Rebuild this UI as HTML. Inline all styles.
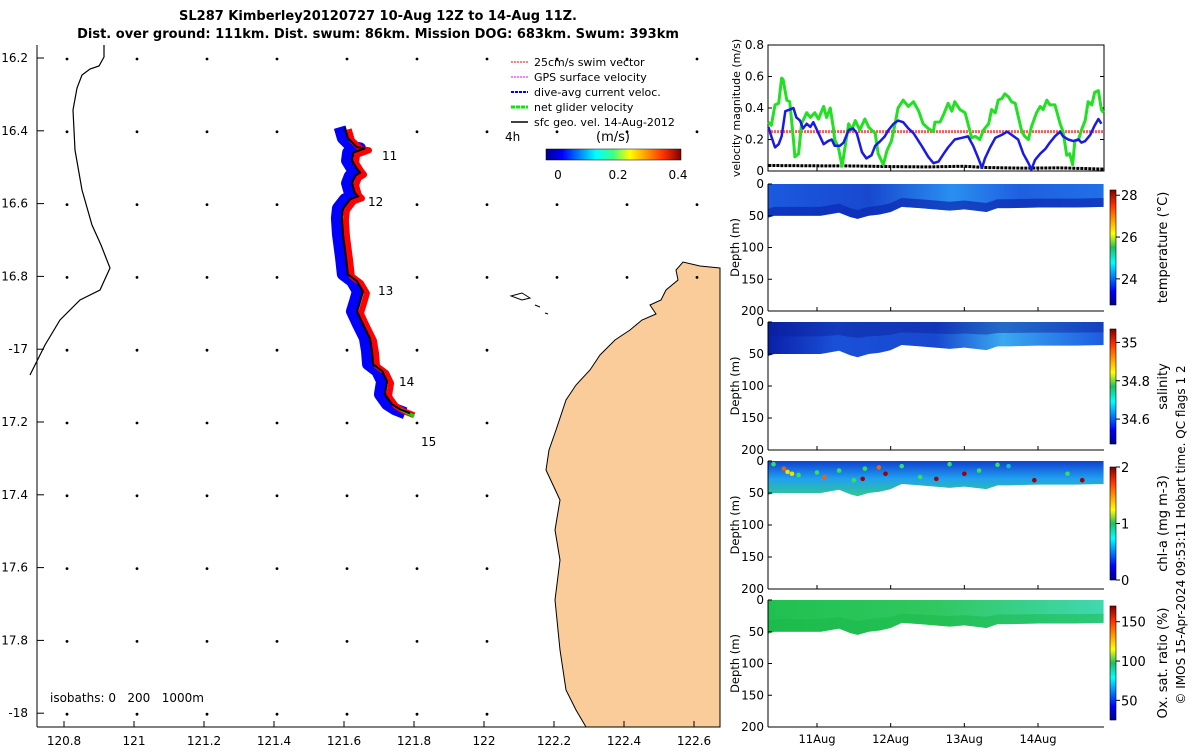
<!DOCTYPE html>
<html><head><meta charset="utf-8">
<style>
body{margin:0;background:#fff;font-family:"Liberation Sans",sans-serif}
svg text{font-family:"DejaVu Sans","Liberation Sans",sans-serif}
</style></head>
<body>
<svg id="chart" xmlns="http://www.w3.org/2000/svg" width="1200" height="750" viewBox="0 0 1200 750">
<defs>
<linearGradient id="jetV" x1="0" y1="1" x2="0" y2="0">
<stop offset="0" stop-color="#00008f"/><stop offset="0.12" stop-color="#0000ff"/><stop offset="0.37" stop-color="#00ffff"/><stop offset="0.5" stop-color="#1fc060"/><stop offset="0.62" stop-color="#ffff00"/><stop offset="0.87" stop-color="#ff3000"/><stop offset="1" stop-color="#800000"/>
</linearGradient>
<linearGradient id="jetH" x1="0" y1="0" x2="1" y2="0">
<stop offset="0" stop-color="#00008f"/><stop offset="0.12" stop-color="#0000ff"/><stop offset="0.37" stop-color="#00ffff"/><stop offset="0.5" stop-color="#40ff80"/><stop offset="0.62" stop-color="#ffff00"/><stop offset="0.87" stop-color="#ff3000"/><stop offset="1" stop-color="#800000"/>
</linearGradient>
<linearGradient id="gT" x1="0" y1="0" x2="1" y2="0">
<stop offset="0" stop-color="#1a5ae0"/><stop offset="0.3" stop-color="#1848d0"/><stop offset="0.55" stop-color="#2a8ff0"/><stop offset="0.75" stop-color="#1f5fe0"/><stop offset="1" stop-color="#2070e8"/>
</linearGradient>
<linearGradient id="gS" x1="0" y1="0" x2="1" y2="0">
<stop offset="0" stop-color="#0a20a8"/><stop offset="0.2" stop-color="#1a50d8"/><stop offset="0.5" stop-color="#1848d0"/><stop offset="0.7" stop-color="#3aa8f0"/><stop offset="1" stop-color="#1c5ce0"/>
</linearGradient>
<linearGradient id="gC" x1="0" y1="0" x2="0" y2="1">
<stop offset="0" stop-color="#1040d0"/><stop offset="0.5" stop-color="#20a0f0"/><stop offset="1" stop-color="#30c890"/>
</linearGradient>
<linearGradient id="gO" x1="0" y1="0" x2="1" y2="0">
<stop offset="0" stop-color="#20c050"/><stop offset="0.5" stop-color="#30c860"/><stop offset="1" stop-color="#40d8b0"/>
</linearGradient>
</defs>

<text x="378" y="20" text-anchor="middle" font-size="13" font-weight="bold">SL287 Kimberley20120727 10-Aug 12Z to 14-Aug 11Z.</text>
<text x="378" y="38" text-anchor="middle" font-size="13" font-weight="bold">Dist. over ground: 111km. Dist. swum: 86km. Mission DOG: 683km. Swum: 393km</text>

<g id="map">
<polygon fill="#f9cc99" stroke="#000" stroke-width="1" points="720,268 700,266 683,262 676,270 678,280 666,290 661,300 650,305 656,314 642,320 630,330 615,340 600,355 590,370 576,385 566,400 556,430 549,450 546,470 560,500 555,530 560,560 555,600 560,650 566,690 576,710 586,727 720,727"/>
<polyline fill="none" stroke="#000" stroke-width="1.2" points="104,45 104,57 99,66 90,69 82,75 77,88 73,110 75,150 82,190 92,225 101,245 110,268 100,290 80,300 60,320 45,345 30,375"/>
<path d="M511,296 L522,293 L530,298 L522,300Z M535,305 l5,2 M545,313 l3,1" stroke="#000" fill="none"/>
<g id="grid-arrows"></g>
<g id="track"></g>
<g id="map-axes"></g>
<text x="50" y="702" font-size="12" xml:space="preserve">isobaths: 0   200   1000m</text>
<text x="382" y="160" font-size="12">11</text>
<text x="368" y="206" font-size="12">12</text>
<text x="378" y="295" font-size="12">13</text>
<text x="399" y="386" font-size="12">14</text>
<text x="421" y="446" font-size="12">15</text>
<g font-size="11">
<line x1="511" y1="62" x2="528" y2="62" stroke="#f00" stroke-dasharray="2,1"/><text x="534" y="66">25cm/s swim vector</text>
<line x1="511" y1="77" x2="528" y2="77" stroke="#f0f" stroke-dasharray="2,1"/><text x="534" y="81">GPS surface velocity</text>
<line x1="511" y1="92" x2="528" y2="92" stroke="#00f" stroke-width="2" stroke-dasharray="3,1"/><text x="534" y="96">dive-avg current veloc.</text>
<line x1="511" y1="107" x2="528" y2="107" stroke="#0e0" stroke-width="3" stroke-dasharray="4,1"/><text x="534" y="111">net glider velocity</text>
<line x1="511" y1="122" x2="528" y2="122" stroke="#000" stroke-width="1.5"/><text x="534" y="126">sfc geo. vel. 14-Aug-2012</text>
<text x="505" y="141" font-size="12">4h</text>
<text x="596" y="141" font-size="13">(m/s)</text>
<rect x="546" y="149" width="135" height="11" fill="url(#jetH)" stroke="#000" stroke-width="0.5"/>
<text x="558" y="179" font-size="12" text-anchor="middle">0</text>
<text x="618" y="179" font-size="12" text-anchor="middle">0.2</text>
<text x="678" y="179" font-size="12" text-anchor="middle">0.4</text>
</g>
</g>

<g id="velplot"></g>
<g id="heat"></g>

<text transform="translate(1185,535) rotate(-90)" text-anchor="middle" font-size="12">© IMOS 15-Apr-2024 09:53:11 Hobart time. QC flags 1  2</text>
</svg>

<script>
const NS="http://www.w3.org/2000/svg";
function mk(tag,attrs,parent,txt){const e=document.createElementNS(NS,tag);for(const k in attrs)e.setAttribute(k,attrs[k]);if(txt!==undefined)e.textContent=txt;parent.appendChild(e);return e;}

// ---------- data ----------
const lonTicks=[120.8,121,121.2,121.4,121.6,121.8,122,122.2,122.4,122.6];
const lonLabels=["120.8","121","121.2","121.4","121.6","121.8","122","122.2","122.4","122.6"];
const latTicks=[16.2,16.4,16.6,16.8,17,17.2,17.4,17.6,17.8,18];
const latLabels=["16.2","16.4","16.6","16.8","-17","17.2","17.4","17.6","17.8","-18"];
const trackLon=[121.602,121.611,121.637,121.660,121.626,121.623,121.637,121.646,121.631,121.623,121.631,121.640,121.617,121.597,121.594,121.597,121.606,121.611,121.637,121.654,121.646,121.637,121.654,121.674,121.680,121.683,121.709,121.723,121.717,121.737,121.760,121.789];
const trackLat=[16.39,16.42,16.445,16.448,16.46,16.482,16.504,16.515,16.524,16.544,16.571,16.58,16.588,16.613,16.64,16.684,16.75,16.794,16.813,16.841,16.868,16.896,16.931,16.97,17.005,17.041,17.06,17.088,17.124,17.151,17.165,17.176];

const velT=[10.34,10.38,10.43,10.48,10.52,10.54,10.59,10.63,10.68,10.70,10.75,10.79,10.86,10.91,10.97,11.02,11.09,11.13,11.18,11.22,11.24,11.29,11.34,11.38,11.43,11.47,11.52,11.58,11.65,11.70,11.74,11.79,11.83,11.90,11.95,12.01,12.06,12.10,12.17,12.24,12.31,12.38,12.44,12.51,12.58,12.60,12.67,12.72,12.78,12.83,12.87,12.94,13.01,13.05,13.10,13.15,13.21,13.26,13.33,13.37,13.42,13.46,13.51,13.55,13.60,13.64,13.69,13.73,13.78,13.82,13.87,13.91,13.98,14.03,14.07,14.12,14.16,14.23,14.30,14.34,14.39,14.43,14.47,14.50,14.55,14.59,14.64,14.68,14.73,14.77,14.82,14.86,14.89];
const netVel=[0.31,0.29,0.42,0.43,0.59,0.58,0.45,0.44,0.20,0.09,0.11,0.30,0.37,0.34,0.37,0.33,0.41,0.34,0.40,0.28,0.20,0.15,0.03,0.15,0.30,0.26,0.32,0.26,0.33,0.28,0.26,0.24,0.11,0.04,0.13,0.19,0.30,0.40,0.45,0.41,0.44,0.38,0.30,0.27,0.25,0.31,0.31,0.36,0.43,0.38,0.44,0.39,0.37,0.30,0.21,0.22,0.20,0.26,0.30,0.39,0.37,0.45,0.46,0.49,0.47,0.44,0.43,0.35,0.25,0.22,0.20,0.28,0.37,0.41,0.39,0.45,0.42,0.42,0.30,0.25,0.10,0.11,0.04,0.19,0.20,0.26,0.32,0.44,0.42,0.50,0.51,0.39,0.37];
const curT=[10.34,10.38,10.43,10.48,10.52,10.57,10.63,10.68,10.72,10.77,10.81,10.86,10.91,10.95,11.02,11.09,11.15,11.20,11.24,11.31,11.36,11.43,11.49,11.54,11.61,11.67,11.74,11.79,11.86,11.92,11.97,12.04,12.10,12.17,12.24,12.31,12.42,12.51,12.58,12.65,12.72,12.78,12.87,12.96,13.05,13.12,13.19,13.24,13.28,13.35,13.42,13.51,13.58,13.64,13.73,13.80,13.87,13.91,13.96,14.03,14.10,14.16,14.23,14.30,14.34,14.41,14.48,14.55,14.59,14.64,14.71,14.77,14.82,14.86];
const curVel=[0.28,0.22,0.15,0.17,0.22,0.38,0.39,0.40,0.34,0.32,0.27,0.30,0.28,0.31,0.24,0.17,0.19,0.20,0.16,0.16,0.18,0.26,0.27,0.24,0.12,0.08,0.10,0.16,0.19,0.22,0.26,0.30,0.32,0.31,0.27,0.24,0.16,0.09,0.05,0.06,0.11,0.15,0.20,0.21,0.22,0.16,0.08,0.02,0.08,0.15,0.21,0.23,0.25,0.23,0.20,0.11,0.05,0.01,0.07,0.11,0.14,0.18,0.22,0.25,0.22,0.20,0.19,0.20,0.18,0.19,0.23,0.29,0.33,0.30];
const geoT=[10.34,11,11.5,12,12.5,13,13.3,13.8,14.3,14.89];
const geoVel=[0.035,0.033,0.032,0.028,0.026,0.03,0.022,0.018,0.02,0.012];
const swimSpeed=[0.25];
const velTicks=[0,0.2,0.4,0.6,0.8];
const velTickLabels=["0","0.2","0.4","0.6","0.8"];

const dayTicks=[11,12,13,14];
const dayLabels=["11Aug","12Aug","13Aug","14Aug"];
const mldT=[10.34,10.42,10.6,10.8,11.05,11.3,11.45,11.55,11.7,11.85,12.0,12.15,12.4,12.6,12.8,13.0,13.15,13.3,13.45,13.6,14.0,14.5,14.89];
const mldD=[53,50,50,50,50,45,52,55,50,48,44,36,38,40,42,40,42,44,38,38,37,37,36];
const depthTicks=[0,50,100,150,200];

const tempCb=[24,26,28]; const tempRange=[22.75,28.25];
const salCb=[34.6,34.8,35]; const salRange=[34.47,35.07];
const chlCb=[0,1,2]; const chlRange=[0,2];
const oxCb=[50,100,150]; const oxRange=[25,170];
const chlDotT=[10.41,10.55,10.6,10.66,10.75,11.0,11.1,11.3,11.5,11.62,11.65,11.84,11.93,12.15,12.4,12.62,12.8,13.0,13.2,13.45,13.6,13.95,14.4,14.6];
const chlDotD=[5,12,17,20,22,18,25,15,30,28,12,10,20,8,25,28,5,20,15,6,8,30,20,30];
const chlDotV=[0.9,1.6,1.3,1.2,0.9,1.0,1.7,0.9,1.1,1.8,0.9,1.6,2.0,1.0,1.1,1.9,0.8,2.0,1.0,0.9,0.6,1.9,1.0,2.0];

// ---------- map ----------
const mx=lon=>64+(lon-120.8)*350;
const my=lat=>58+(lat-16.2)*364;
const map=document.getElementById('map-axes');
mk('line',{x1:37,y1:727,x2:720,y2:727,stroke:'#000'},map);
mk('line',{x1:37,y1:45,x2:37,y2:727,stroke:'#000'},map);
lonTicks.forEach((v,i)=>{const x=mx(v);
 mk('line',{x1:x,y1:727,x2:x,y2:721,stroke:'#000'},map);
 const t=mk('text',{x:x,y:745,'text-anchor':'middle','font-size':12},map,lonLabels[i]);
 
 
});
latTicks.forEach((v,i)=>{const y=my(v);
 mk('line',{x1:37,y1:y,x2:44,y2:y,stroke:'#000'},map);
 const t=mk('text',{x:28,y:y+4,'text-anchor':'end','font-size':12},map,latLabels[i]);
 
 
});
const ga=document.getElementById('grid-arrows');
lonTicks.forEach(lo=>latTicks.forEach(la=>{
 const x=mx(lo)+3,y=my(la)+1;
 if(x>545&&y>300)return;
 const a=mk('circle',{cx:x,cy:y,r:1.4,fill:'#000'},ga);
 
 
}));
const tr=document.getElementById('track');
const pts=trackLon.map((lo,i)=>[mx(lo),my(trackLat[i])]);
const blue=mk('polyline',{points:pts.map(p=>(p[0]-5)+','+p[1]).join(' '),fill:'none',stroke:'#0000ff','stroke-width':12,'stroke-linejoin':'round'},tr);


const red=mk('polyline',{points:pts.map(p=>(p[0]+4)+','+(p[1]+2)).join(' '),fill:'none',stroke:'#ff0000','stroke-width':6,'stroke-linejoin':'round'},tr);


const lp=pts[pts.length-1];
const gr=mk('line',{x1:lp[0]-10,y1:lp[1]-4,x2:lp[0]+4,y2:lp[1]+3,stroke:'#00e000','stroke-width':3},tr);


const bl=mk('polyline',{points:pts.map(p=>p.join(',')).join(' '),fill:'none',stroke:'#000','stroke-width':2},tr);



// ---------- velocity plot ----------
const X0=768,X1=1104;
const tx=d=>817+(d-11)*73.67;
const vy=v=>171-v*157.5;
const vp=document.getElementById('velplot');
mk('rect',{x:X0,y:45,width:X1-X0,height:126,fill:'#fff',stroke:'#000'},vp);
velTicks.forEach((v,i)=>{const y=vy(v);
 mk('line',{x1:X0,y1:y,x2:X0+4,y2:y,stroke:'#000'},vp);
 mk('line',{x1:X1,y1:y,x2:X1-4,y2:y,stroke:'#000'},vp);
 const t=mk('text',{x:X0-4,y:y+4,'text-anchor':'end','font-size':12},vp,velTickLabels[i]);
 
 
});
dayTicks.forEach(d=>{mk('line',{x1:tx(d),y1:171,x2:tx(d),y2:167,stroke:'#000'},vp);});
const yl=mk('text',{transform:'translate(740,108) rotate(-90)','text-anchor':'middle','font-size':11},vp,'velocity magnitude (m/s)');


const sw=mk('line',{x1:X0,x2:X1,y1:vy(swimSpeed[0]),y2:vy(swimSpeed[0]),stroke:'#f33','stroke-width':3,'stroke-dasharray':'2,1',opacity:0.8},vp);


const gl=mk('polyline',{points:geoT.map((t,i)=>tx(t)+','+vy(geoVel[i])).join(' '),fill:'none',stroke:'#000','stroke-width':3,'stroke-dasharray':'3,1'},vp);


const nl=mk('polyline',{points:velT.map((t,i)=>tx(t)+','+vy(netVel[i])).join(' '),fill:'none',stroke:'#22e022','stroke-width':3,'stroke-linejoin':'round'},vp);


const cl=mk('polyline',{points:curT.map((t,i)=>tx(t)+','+vy(curVel[i])).join(' '),fill:'none',stroke:'#1a1ae8','stroke-width':2.5,'stroke-linejoin':'round'},vp);



// ---------- section panels ----------
const panels=[
 {top:184,bot:311,fill:'url(#gT)',name:'temperature',label:'temperature (°C)',cb:tempCb,range:tempRange,cbTop:190,cbBot:305},
 {top:322,bot:450,fill:'url(#gS)',name:'salinity',label:'salinity',cb:salCb,range:salRange,cbTop:329,cbBot:444},
 {top:461,bot:589,fill:'url(#gC)',name:'chlorophyll',label:'chl-a (mg m-3)',cb:chlCb,range:chlRange,cbTop:467,cbBot:580},
 {top:600,bot:727,fill:'url(#gO)',name:'oxygen',label:'Ox. sat. ratio (%)',cb:oxCb,range:oxRange,cbTop:606,cbBot:720}
];
const hg=document.getElementById('heat');
panels.forEach((p,pi)=>{
 const g=mk('g',{},hg);
 
 
 const dy=d=>p.top+d/200*(p.bot-p.top);
 let d='M'+tx(mldT[0])+','+p.top;
 d+=' L'+tx(mldT[mldT.length-1])+','+p.top;
 for(let i=mldT.length-1;i>=0;i--) d+=' L'+tx(mldT[i])+','+dy(mldD[i]);
 d+='Z';
 const band=mk('path',{d:d,fill:p.fill},g);
 
 
 if(pi===0){
  let d2='';for(let i=0;i<mldT.length;i++) d2+=(i?' L':'M')+tx(mldT[i])+','+dy(mldD[i]-14);
  for(let i=mldT.length-1;i>=0;i--) d2+=' L'+tx(mldT[i])+','+dy(mldD[i]);
  mk('path',{d:d2+'Z',fill:'#0c28b0',opacity:0.7},g);
 }
 if(pi===1){
  let d2='';for(let i=0;i<mldT.length;i++) d2+=(i?' L':'M')+tx(mldT[i])+','+dy(mldD[i]*0.45);
  for(let i=mldT.length-1;i>=0;i--) d2+=' L'+tx(mldT[i])+','+dy(0);
  mk('path',{d:d2+'Z',fill:'#0a1e9a',opacity:0.45},g);
 }
 if(pi===3){
  let d2='';for(let i=0;i<mldT.length;i++) d2+=(i?' L':'M')+tx(mldT[i])+','+dy(mldD[i]*0.6);
  for(let i=mldT.length-1;i>=0;i--) d2+=' L'+tx(mldT[i])+','+dy(mldD[i]);
  mk('path',{d:d2+'Z',fill:'#18b848',opacity:0.5},g);
 }
 if(pi===2){
  const cs=v=>{const f=v/2;return f<0.4?'#10c0c0':f<0.6?'#30e060':f<0.75?'#f0e000':f<0.9?'#f06010':'#a00000';};
  chlDotT.forEach((t,i)=>{
   const c=mk('circle',{cx:tx(t),cy:dy(chlDotD[i]),r:2.3,fill:cs(chlDotV[i])},g);
   
   
  });
 }
 mk('line',{x1:X0,y1:p.top,x2:X0,y2:p.bot,stroke:'#000'},g);
 mk('line',{x1:X0,y1:p.bot,x2:X1,y2:p.bot,stroke:'#000'},g);
 depthTicks.forEach(v=>{const y=dy(v);
  mk('line',{x1:X0,y1:y,x2:X0+4,y2:y,stroke:'#000'},g);
  const t=mk('text',{x:X0-4,y:y+4,'text-anchor':'end','font-size':12},g,String(v));
  
  
 });
 dayTicks.forEach(dd=>mk('line',{x1:tx(dd),y1:p.bot,x2:tx(dd),y2:p.bot-4,stroke:'#000'},g));
 const yt=mk('text',{transform:`translate(739,${(p.top+p.bot)/2}) rotate(-90)`,'text-anchor':'middle','font-size':11.5},g,'Depth (m)');
 
 
 const cb=mk('rect',{x:1110,y:p.cbTop,width:6,height:p.cbBot-p.cbTop,fill:'url(#jetV)',stroke:'#000','stroke-width':0.6},g);
 
 
 p.cb.forEach(v=>{const y=p.cbBot-(v-p.range[0])/(p.range[1]-p.range[0])*(p.cbBot-p.cbTop);
  mk('line',{x1:1116,y1:y,x2:1120,y2:y,stroke:'#000'},g);
  const t=mk('text',{x:1121,y:y+5,'font-size':13},g,String(v));
  
  
 });
 const ct=mk('text',{transform:`translate(1167,${(p.cbTop+p.cbBot)/2}) rotate(-90)`,'text-anchor':'middle','font-size':13},g,p.label);
 
 
});
dayTicks.forEach((d,i)=>{
 const t=mk('text',{x:tx(d),y:743,'text-anchor':'middle','font-size':11.5},hg,dayLabels[i]);
 
 
});
</script>
</body></html>
